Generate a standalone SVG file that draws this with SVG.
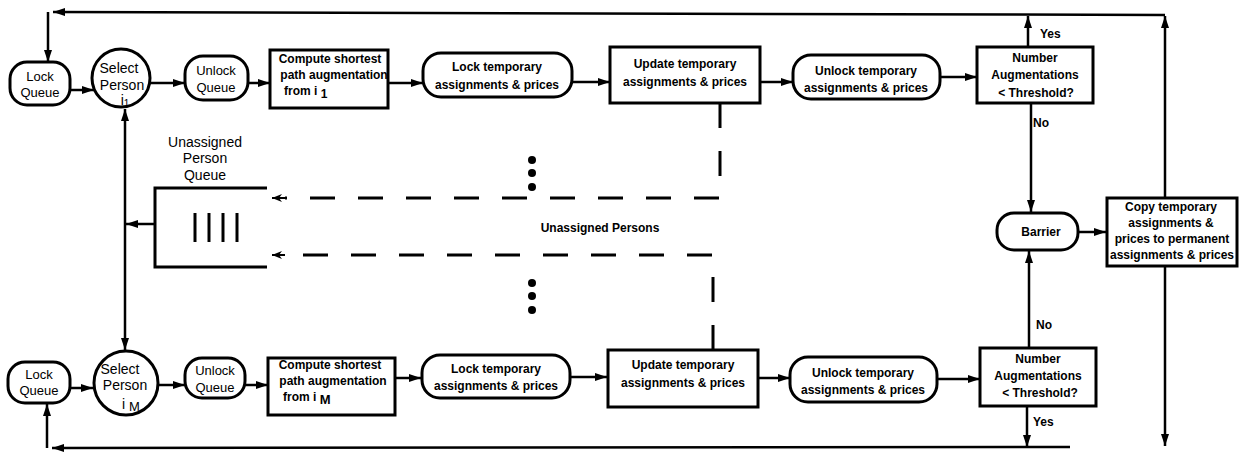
<svg xmlns="http://www.w3.org/2000/svg" width="1241" height="453" viewBox="0 0 1241 453">
<defs>
<marker id="ah" viewBox="0 0 12 8" refX="12" refY="4" markerWidth="12" markerHeight="8" markerUnits="userSpaceOnUse" orient="auto"><path d="M0,0 L12,4 L0,8 z" fill="#000"/></marker>
<marker id="ahs" viewBox="0 0 12 8" refX="12" refY="4" markerWidth="12" markerHeight="8" markerUnits="userSpaceOnUse" orient="auto-start-reverse"><path d="M0,0 L12,4 L0,8 z" fill="#000"/></marker>
<marker id="ahd" viewBox="0 0 10 8" refX="10" refY="4" markerWidth="10" markerHeight="8" markerUnits="userSpaceOnUse" orient="auto"><path d="M0,0 L10,4 L0,8 L3,4 z" fill="#000"/></marker>
</defs>
<style>
.box{fill:#fff;stroke:#000;stroke-width:3}
.ln{fill:none;stroke:#000;stroke-width:2.5}
.dash{fill:none;stroke:#000;stroke-width:3;stroke-dasharray:25 23}
text{font-family:"Liberation Sans",Arial,sans-serif;font-size:12px;font-weight:bold;text-anchor:middle;fill:#000}
.lbl{text-anchor:start}
.q{font-weight:normal;font-size:13px}
.s{font-weight:normal;font-size:14px}
</style>
<rect width="1241" height="453" fill="#fff"/>

<g id="connectors">
<polyline class="ln" points="1165,15 53,12" marker-end="url(#ah)"/>
<polyline class="ln" points="48,12 48,62" marker-end="url(#ah)"/>
<line class="ln" x1="1028" y1="47" x2="1028" y2="16" marker-end="url(#ah)"/>
<line class="ln" x1="1165" y1="198" x2="1165" y2="16" marker-end="url(#ah)"/>
<line class="ln" x1="1165" y1="266" x2="1165" y2="446" marker-end="url(#ah)"/>
<line class="ln" x1="1031" y1="103" x2="1031" y2="212" marker-end="url(#ah)"/>
<line class="ln" x1="1029" y1="348" x2="1029" y2="251" marker-end="url(#ah)"/>
<line class="ln" x1="1078" y1="232" x2="1106" y2="232" marker-end="url(#ah)"/>
<line class="ln" x1="1027" y1="406" x2="1027" y2="447" marker-end="url(#ah)"/>
<polyline class="ln" points="1070,447 52,448" marker-end="url(#ah)"/>
<polyline class="ln" points="47,448 47,404" marker-end="url(#ah)"/>
<line class="ln" x1="70" y1="90" x2="94" y2="90" marker-end="url(#ah)"/>
<line class="ln" x1="150" y1="83" x2="185" y2="83" marker-end="url(#ah)"/>
<line class="ln" x1="248" y1="83" x2="270" y2="83" marker-end="url(#ah)"/>
<line class="ln" x1="388" y1="83" x2="423" y2="83" marker-end="url(#ah)"/>
<line class="ln" x1="572" y1="82" x2="610" y2="82" marker-end="url(#ah)"/>
<line class="ln" x1="760" y1="82" x2="793" y2="82" marker-end="url(#ah)"/>
<line class="ln" x1="940" y1="77" x2="977" y2="77" marker-end="url(#ah)"/>
<line class="ln" x1="70" y1="388" x2="93" y2="388" marker-end="url(#ah)"/>
<line class="ln" x1="159" y1="385" x2="185" y2="385" marker-end="url(#ah)"/>
<line class="ln" x1="245" y1="385" x2="268" y2="385" marker-end="url(#ah)"/>
<line class="ln" x1="395" y1="378" x2="421" y2="378" marker-end="url(#ah)"/>
<line class="ln" x1="570" y1="377" x2="607" y2="377" marker-end="url(#ah)"/>
<line class="ln" x1="758" y1="378" x2="790" y2="378" marker-end="url(#ah)"/>
<line class="ln" x1="937" y1="379" x2="980" y2="379" marker-end="url(#ah)"/>
<line class="ln" x1="125" y1="109" x2="125" y2="350" marker-start="url(#ahs)" marker-end="url(#ah)"/>
<line class="ln" x1="155" y1="224" x2="126" y2="224" marker-end="url(#ah)"/>
<polyline class="dash" points="720,103 720,198 285,198"/>
<line class="ln" x1="285" y1="198" x2="272" y2="198" marker-end="url(#ahd)" style="stroke-width:2"/>
<polyline class="dash" points="713,350 713,255 285,255"/>
<line class="ln" x1="285" y1="255" x2="272" y2="255" marker-end="url(#ahd)" style="stroke-width:2"/>
</g>

<g id="dots">
<circle cx="532" cy="160" r="4"/><circle cx="532" cy="173" r="4"/><circle cx="532" cy="187" r="4"/>
<circle cx="532" cy="283" r="4"/><circle cx="532" cy="296" r="4"/><circle cx="532" cy="310" r="4"/>
</g>
<text x="600" y="232">Unassigned Persons</text>

<g id="queue">
<polyline class="ln" style="stroke-width:3" points="267,188 155,188 155,267 267,267"/>
<line class="ln" style="stroke-width:3" x1="195" y1="213" x2="195" y2="242"/>
<line class="ln" style="stroke-width:3" x1="209" y1="213" x2="209" y2="242"/>
<line class="ln" style="stroke-width:3" x1="223" y1="213" x2="223" y2="242"/>
<line class="ln" style="stroke-width:3" x1="237" y1="213" x2="237" y2="242"/>
<text class="s" x="205" y="147">Unassigned</text>
<text class="s" x="205" y="163">Person</text>
<text class="s" x="205" y="180">Queue</text>
</g>

<g id="lockq1"><rect class="box" x="10" y="62" width="60" height="43" rx="17"/><text class="q" x="40" y="81">Lock</text><text class="q" x="40" y="97">Queue</text></g>
<g id="select1"><circle class="box" cx="121" cy="78" r="29"/><text class="s" x="119" y="73">Select</text><text class="s" x="122" y="90">Person</text><text class="s" x="125" y="105">i<tspan font-size="10" dy="2">1</tspan></text></g>
<g id="unlockq1"><rect class="box" x="185" y="56" width="63" height="44" rx="18"/><text class="q" x="216" y="75">Unlock</text><text class="q" x="216" y="92">Queue</text></g>
<g id="compute1"><rect class="box" x="270" y="50" width="118" height="58"/><text x="330" y="63">Compute shortest</text><text x="334" y="79">path augmentation</text><text x="284" y="95" style="text-anchor:start">from i <tspan dy="3">1</tspan></text></g>
<g id="locktemp1"><rect class="box" x="423" y="53" width="149" height="44" rx="18"/><text x="497" y="71">Lock temporary</text><text x="497" y="89">assignments &amp; prices</text></g>
<g id="update1"><rect class="box" x="610" y="47" width="150" height="56"/><text x="685" y="68">Update temporary</text><text x="685" y="86">assignments &amp; prices</text></g>
<g id="unlocktemp1"><rect class="box" x="793" y="55" width="147" height="44" rx="18"/><text x="866" y="75">Unlock temporary</text><text x="866" y="92">assignments &amp; prices</text></g>
<g id="number1"><rect class="box" x="977" y="47" width="116" height="56"/><text x="1035" y="62">Number</text><text x="1035" y="79">Augmentations</text><text x="1036" y="97">&lt; Threshold?</text></g>
<text class="lbl" x="1040" y="38">Yes</text>
<text class="lbl" x="1033" y="127">No</text>

<g id="barrier"><rect class="box" x="997" y="213" width="81" height="37" rx="17"/><text x="1041" y="236">Barrier</text></g>
<g id="copy"><rect class="box" x="1107" y="198" width="130" height="68"/><text x="1171" y="211">Copy  temporary</text><text x="1171" y="227">assignments &amp;</text><text x="1172" y="243">prices to permanent</text><text x="1172" y="259">assignments &amp; prices</text></g>

<g id="lockqM"><rect class="box" x="8" y="362" width="62" height="41" rx="17"/><text class="q" x="39" y="379">Lock</text><text class="q" x="39" y="395">Queue</text></g>
<g id="selectM"><circle class="box" cx="126" cy="383" r="32"/><text class="s" x="120" y="374">Select</text><text class="s" x="125" y="390">Person</text><text class="s" x="131" y="409">i <tspan font-size="13" dy="2">M</tspan></text></g>
<g id="unlockqM"><rect class="box" x="185" y="358" width="60" height="40" rx="17"/><text class="q" x="215" y="375">Unlock</text><text class="q" x="215" y="392">Queue</text></g>
<g id="computeM"><rect class="box" x="268" y="358" width="127" height="57"/><text x="330" y="369">Compute shortest</text><text x="333" y="385">path augmentation</text><text x="283" y="401" style="text-anchor:start">from i <tspan dy="3" font-size="13">M</tspan></text></g>
<g id="locktempM"><rect class="box" x="422" y="355" width="148" height="43" rx="18"/><text x="496" y="373">Lock temporary</text><text x="496" y="390">assignments &amp; prices</text></g>
<g id="updateM"><rect class="box" x="608" y="350" width="150" height="57"/><text x="683" y="369">Update temporary</text><text x="683" y="387">assignments &amp; prices</text></g>
<g id="unlocktempM"><rect class="box" x="790" y="357" width="147" height="45" rx="18"/><text x="863" y="377">Unlock temporary</text><text x="863" y="394">assignments &amp; prices</text></g>
<g id="numberM"><rect class="box" x="980" y="348" width="116" height="58"/><text x="1038" y="363">Number</text><text x="1038" y="380">Augmentations</text><text x="1040" y="397">&lt; Threshold?</text></g>
<text class="lbl" x="1036" y="329">No</text>
<text class="lbl" x="1033" y="426">Yes</text>
</svg>
